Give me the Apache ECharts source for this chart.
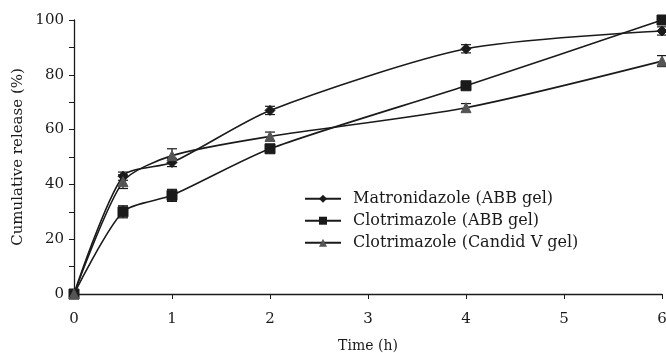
<!DOCTYPE html>
<html lang="en">
<head>
  <script src="https://cdn.jsdelivr.net/npm/echarts@6.0.0/dist/echarts.min.js"></script>
</head>
<body style="margin:0">
  <div id="releaseChart" style="width: 666px;height:353px;"></div>
  <script type="text/javascript">
    var times = [0, 0.5, 1, 2, 4, 6];
    var matroRelease = [0, 43, 48, 67, 89.5, 96];
    var matroErr = [0, 1.5, 1.5, 1.5, 1.5, 1.5];
    var clotriRelease = [0, 30, 36, 53, 76, 100];
    var clotriErr = [0, 2.2, 2.2, 1.2, 1, 1.5];
    var candidRelease = [0, 41, 50.5, 57.5, 68, 85];
    var candidErr = [0, 2.5, 2.5, 1.6, 1.5, 2];
    var seriesNames = ['Matronidazole (ABB gel)', 'Clotrimazole (ABB gel)', 'Clotrimazole (Candid V gel)'];

    var font = 'DejaVu Serif';
    var ink = '#1a1a1a';

    function pairs(y) {
        return times.map(function (t, i) { return [t, y[i]]; });
    }

    function errorSeries(y, err) {
        return {
            type: 'custom',
            silent: true,
            z: 1,
            data: times.map(function (t, i) { return [t, y[i] - err[i], y[i] + err[i]]; }),
            renderItem: function (params, api) {
                var lo = api.coord([api.value(0), api.value(1)]);
                var hi = api.coord([api.value(0), api.value(2)]);
                var w = 5;
                var style = { stroke: ink, lineWidth: 1.2 };
                return {
                    type: 'group',
                    children: [
                        { type: 'line', shape: { x1: lo[0], y1: lo[1], x2: hi[0], y2: hi[1] }, style: style },
                        { type: 'line', shape: { x1: lo[0] - w, y1: lo[1], x2: lo[0] + w, y2: lo[1] }, style: style },
                        { type: 'line', shape: { x1: hi[0] - w, y1: hi[1], x2: hi[0] + w, y2: hi[1] }, style: style }
                    ]
                };
            }
        };
    }

    function lineSeries(name, y, symbol, size, color) {
        return {
            name: name,
            type: 'line',
            smooth: 0.25,
            z: 3,
            data: pairs(y),
            symbol: symbol,
            symbolSize: size,
            showAllSymbol: true,
            lineStyle: { color: ink, width: 1.6 },
            itemStyle: { color: color, borderColor: color },
            emphasis: { disabled: true }
        };
    }

    function legendItem(name, top) {
        return {
            orient: 'vertical',
            left: 304,
            top: top,
            itemWidth: 36,
            itemHeight: 10,
            padding: 0,
            selectedMode: false,
            data: [name],
            textStyle: { fontFamily: font, fontSize: 16, color: ink, padding: [0, 0, 0, 7] }
        };
    }

    var chart = echarts.init(document.getElementById('releaseChart'));
    chart.setOption({
        animation: false,
        textStyle: { fontFamily: font, color: ink },
        grid: { left: 74, right: 4, top: 20, bottom: 59, containLabel: false, outerBoundsMode: 'none' },
        legend: [
            legendItem(seriesNames[0], 183),
            legendItem(seriesNames[1], 205),
            legendItem(seriesNames[2], 227)
        ],
        xAxis: {
            type: 'value',
            min: 0,
            max: 6,
            interval: 1,
            name: 'Time (h)',
            nameLocation: 'middle',
            nameGap: 39,
            nameMoveOverlap: false,
            nameTextStyle: { fontFamily: font, fontSize: 14, color: ink },
            axisLine: { lineStyle: { color: ink, width: 1.3 } },
            axisTick: { show: true, length: 5, inside: false, lineStyle: { color: ink } },
            axisLabel: { fontFamily: font, fontSize: 15, color: ink, margin: 10 },
            splitLine: { show: false }
        },
        yAxis: {
            type: 'value',
            min: 0,
            max: 100,
            interval: 20,
            name: 'Cumulative release (%)',
            nameLocation: 'middle',
            nameGap: 41,
            nameMoveOverlap: false,
            nameTextStyle: { fontFamily: font, fontSize: 15, color: ink },
            axisLine: { show: true, lineStyle: { color: ink, width: 1.3 } },
            axisTick: { show: true, length: 5, lineStyle: { color: ink } },
            minorTick: { show: true, splitNumber: 2, length: 5, lineStyle: { color: ink } },
            axisLabel: { fontFamily: font, fontSize: 15, color: ink, margin: 10 },
            splitLine: { show: false }
        },
        series: [
            errorSeries(matroRelease, matroErr),
            errorSeries(clotriRelease, clotriErr),
            errorSeries(candidRelease, candidErr),
            lineSeries(seriesNames[0], matroRelease, 'diamond', 10, ink),
            lineSeries(seriesNames[1], clotriRelease, 'rect', 10, ink),
            lineSeries(seriesNames[2], candidRelease, 'triangle', 10, '#555555')
        ]
    });
  </script>
</body>
</html>
